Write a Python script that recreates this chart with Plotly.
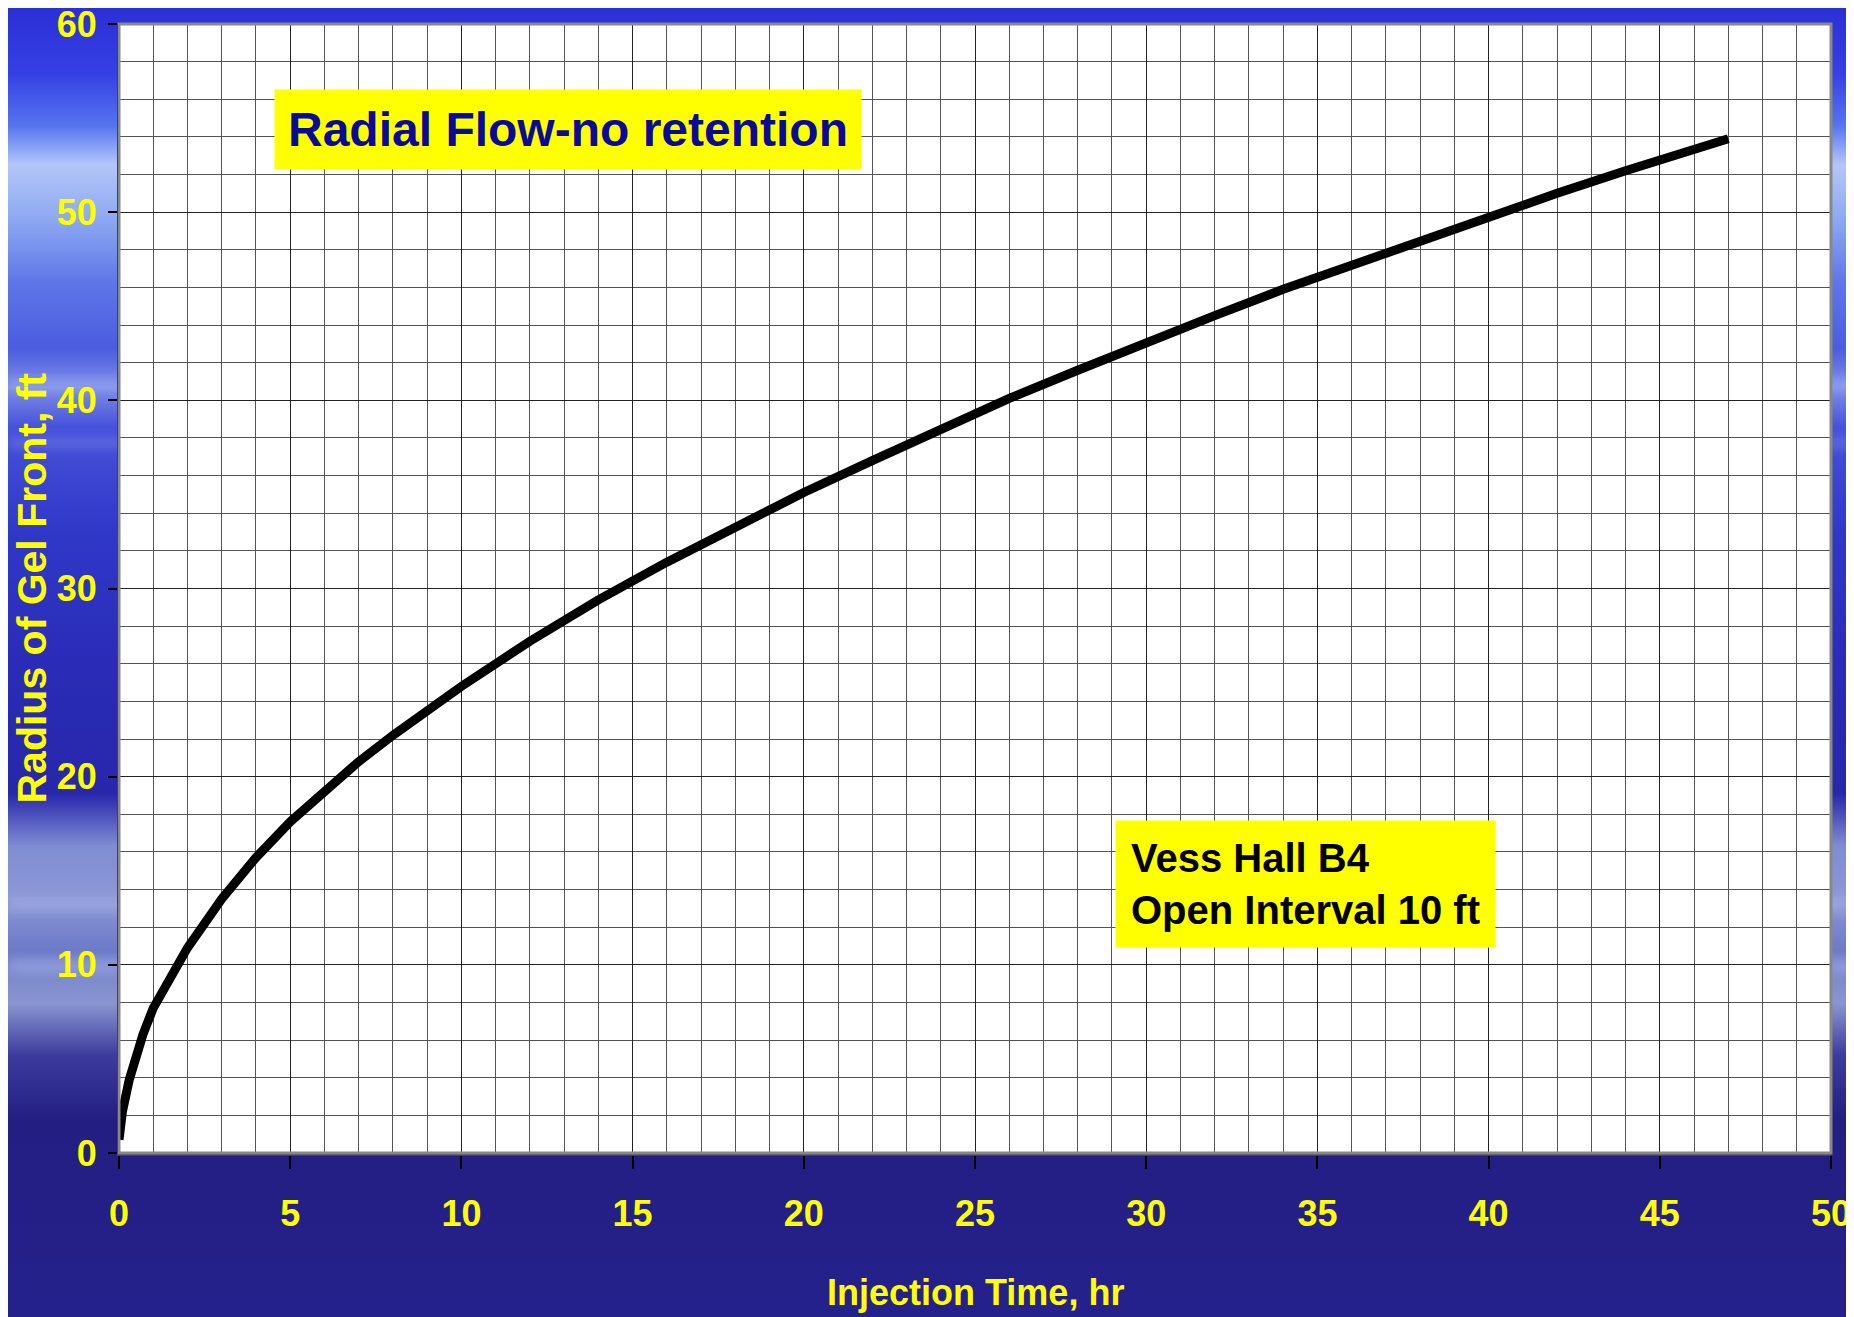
import base64
import plotly.graph_objects as go

# injection time (hr) and radius of gel front (ft)
time_hr = [0.0, 0.1, 0.3, 0.5, 0.7, 1.0, 1.5, 2, 3, 4, 5, 6, 7, 8, 9, 10, 12, 14, 16, 18,
           20, 22, 24, 26, 28, 30, 32, 34, 36, 38, 40, 42, 44, 46, 47]
radius_ft = [0.7, 2.2, 3.9, 5.2, 6.3, 7.7, 9.4, 10.9, 13.5, 15.7, 17.6, 19.2, 20.8, 22.2, 23.5,
             24.8, 27.2, 29.4, 31.4, 33.3, 35.1, 36.8, 38.5, 40.1, 41.6, 43.1, 44.5, 45.9, 47.2,
             48.5, 49.8, 51.0, 52.2, 53.4, 53.9]

x_ticks = [0, 5, 10, 15, 20, 25, 30, 35, 40, 45, 50]
y_ticks = [0, 10, 20, 30, 40, 50, 60]

title_text = "Radial Flow-no retention"
well_text = "Vess Hall B4<br>Open Interval 10 ft"
x_title = "Injection Time, hr"
y_title = "Radius of Gel Front, ft"

# the page body adds an 8px offset, so the figure is 8px smaller
OFF = 8
W, H = 1854 - OFF, 1317 - OFF
L, R, T, B = 119 - OFF, 23, 24 - OFF, 164
pw, ph = W - L - R, H - T - B

FONT = "'Liberation Sans', Arial, sans-serif"

# slide-like blue sky background as an inline svg
stops = [
    (0.00, "#2b2fd6"), (0.05, "#3540e4"), (0.09, "#5575ee"), (0.12, "#b4c6f8"),
    (0.16, "#8eaaf2"), (0.21, "#5e76e8"), (0.26, "#4b5ce0"), (0.29, "#7e8ee8"),
    (0.32, "#4652da"), (0.40, "#3038c8"), (0.50, "#2a2cb8"), (0.60, "#2727aa"),
    (0.64, "#7e8cd2"), (0.68, "#8c98d6"), (0.72, "#6c7ac8"), (0.76, "#8a96d0"),
    (0.80, "#3c3c9e"), (0.85, "#221e82"), (1.00, "#25218c"),
]
stop_svg = "".join(f'<stop offset="{o}" stop-color="{c}"/>' for o, c in stops)
svg = (
    f'<svg xmlns="http://www.w3.org/2000/svg" width="{W}" height="{H}" '
    f'viewBox="0 0 {W} {H}" preserveAspectRatio="none">'
    f'<defs><linearGradient id="g" x1="0" y1="0" x2="0" y2="1">{stop_svg}</linearGradient>'
    '<filter id="b"><feGaussianBlur stdDeviation="6"/></filter></defs>'
    f'<rect width="{W}" height="{H}" fill="url(#g)"/>'
    '<g filter="url(#b)" opacity="0.35" fill="#c8d4ff">'
    '<rect x="0" y="372" width="1854" height="8"/>'
    '<rect x="0" y="432" width="1854" height="6"/>'
    '<rect x="0" y="892" width="1854" height="10"/>'
    '<rect x="0" y="952" width="1854" height="12"/>'
    '</g></svg>'
)
bg_uri = "data:image/svg+xml;base64," + base64.b64encode(svg.encode()).decode()

fig = go.Figure()

fig.add_trace(go.Scatter(
    x=time_hr,
    y=radius_ft,
    mode="lines",
    line=dict(color="black", width=9),
    showlegend=False,
    hoverinfo="x+y",
))

tick_font = dict(family=FONT, size=36, color="#ffff00", weight="bold")

fig.update_xaxes(
    range=[0, 50],
    tickvals=x_ticks,
    ticks="outside", ticklen=13, tickwidth=1.5, tickcolor="black",
    ticklabelstandoff=14, ticklabeloverflow="allow",
    tickfont=tick_font,
    showgrid=True, gridcolor="#222222", gridwidth=1.3,
    minor=dict(dtick=1, showgrid=True, gridcolor="#555555", gridwidth=1.3),
    showline=True, linecolor="#444444", linewidth=3,
    zeroline=False, automargin=False,
)
fig.update_yaxes(
    range=[0, 60],
    tickvals=y_ticks,
    ticks="outside", ticklen=9, tickwidth=1.5, tickcolor="black",
    ticklabelstandoff=4, ticklabeloverflow="allow",
    tickfont=tick_font,
    showgrid=True, gridcolor="#222222", gridwidth=1.3,
    minor=dict(dtick=2, showgrid=True, gridcolor="#555555", gridwidth=1.3),
    showline=True, linecolor="black", linewidth=2,
    zeroline=False, automargin=False,
)

# white plotting area + grey frame
fig.add_shape(type="rect", xref="paper", yref="paper", x0=0, x1=1, y0=0, y1=1,
              fillcolor="white", line_width=0, layer="below")
fig.add_shape(type="rect", xref="paper", yref="paper", x0=0, x1=1, y0=0, y1=1,
              fillcolor="rgba(0,0,0,0)", line=dict(color="#888888", width=3), layer="above")

# axis titles
fig.add_annotation(
    x=0.5, y=(1153 - 1292) / ph, xref="paper", yref="paper",
    text=x_title, showarrow=False, xanchor="center", yanchor="middle",
    font=dict(family=FONT, size=36, color="#ffff00", weight="bold"),
)
fig.add_annotation(
    x=(31 - 119) / pw, y=0.5, xref="paper", yref="paper",
    text=y_title, showarrow=False, textangle=-90, xanchor="center", yanchor="middle",
    font=dict(family=FONT, size=41, color="#ffff00", weight="bold"),
)

fig.add_annotation(
    x=13.1, y=54.4, xref="x", yref="y",
    text=title_text, showarrow=False,
    font=dict(family=FONT, size=48, color="#0a0a99", weight="bold"),
    bgcolor="#ffff00", borderpad=13,
)
fig.add_annotation(
    x=34.65, y=14.3, xref="x", yref="y",
    text=well_text, showarrow=False, align="left",
    font=dict(family=FONT, size=40, color="black", weight="bold"),
    bgcolor="#ffff00", borderpad=15,
)

fig.update_layout(
    width=W, height=H,
    margin=dict(l=L, r=R, t=T, b=B, autoexpand=False),
    paper_bgcolor="#25218c",
    plot_bgcolor="rgba(0,0,0,0)",
    images=[dict(
        source=bg_uri, xref="paper", yref="paper",
        x=-L / pw, y=1 + T / ph, sizex=W / pw, sizey=H / ph,
        xanchor="left", yanchor="top", sizing="stretch", layer="below",
    )],
    showlegend=False,
)

fig.write_html("out.html")
